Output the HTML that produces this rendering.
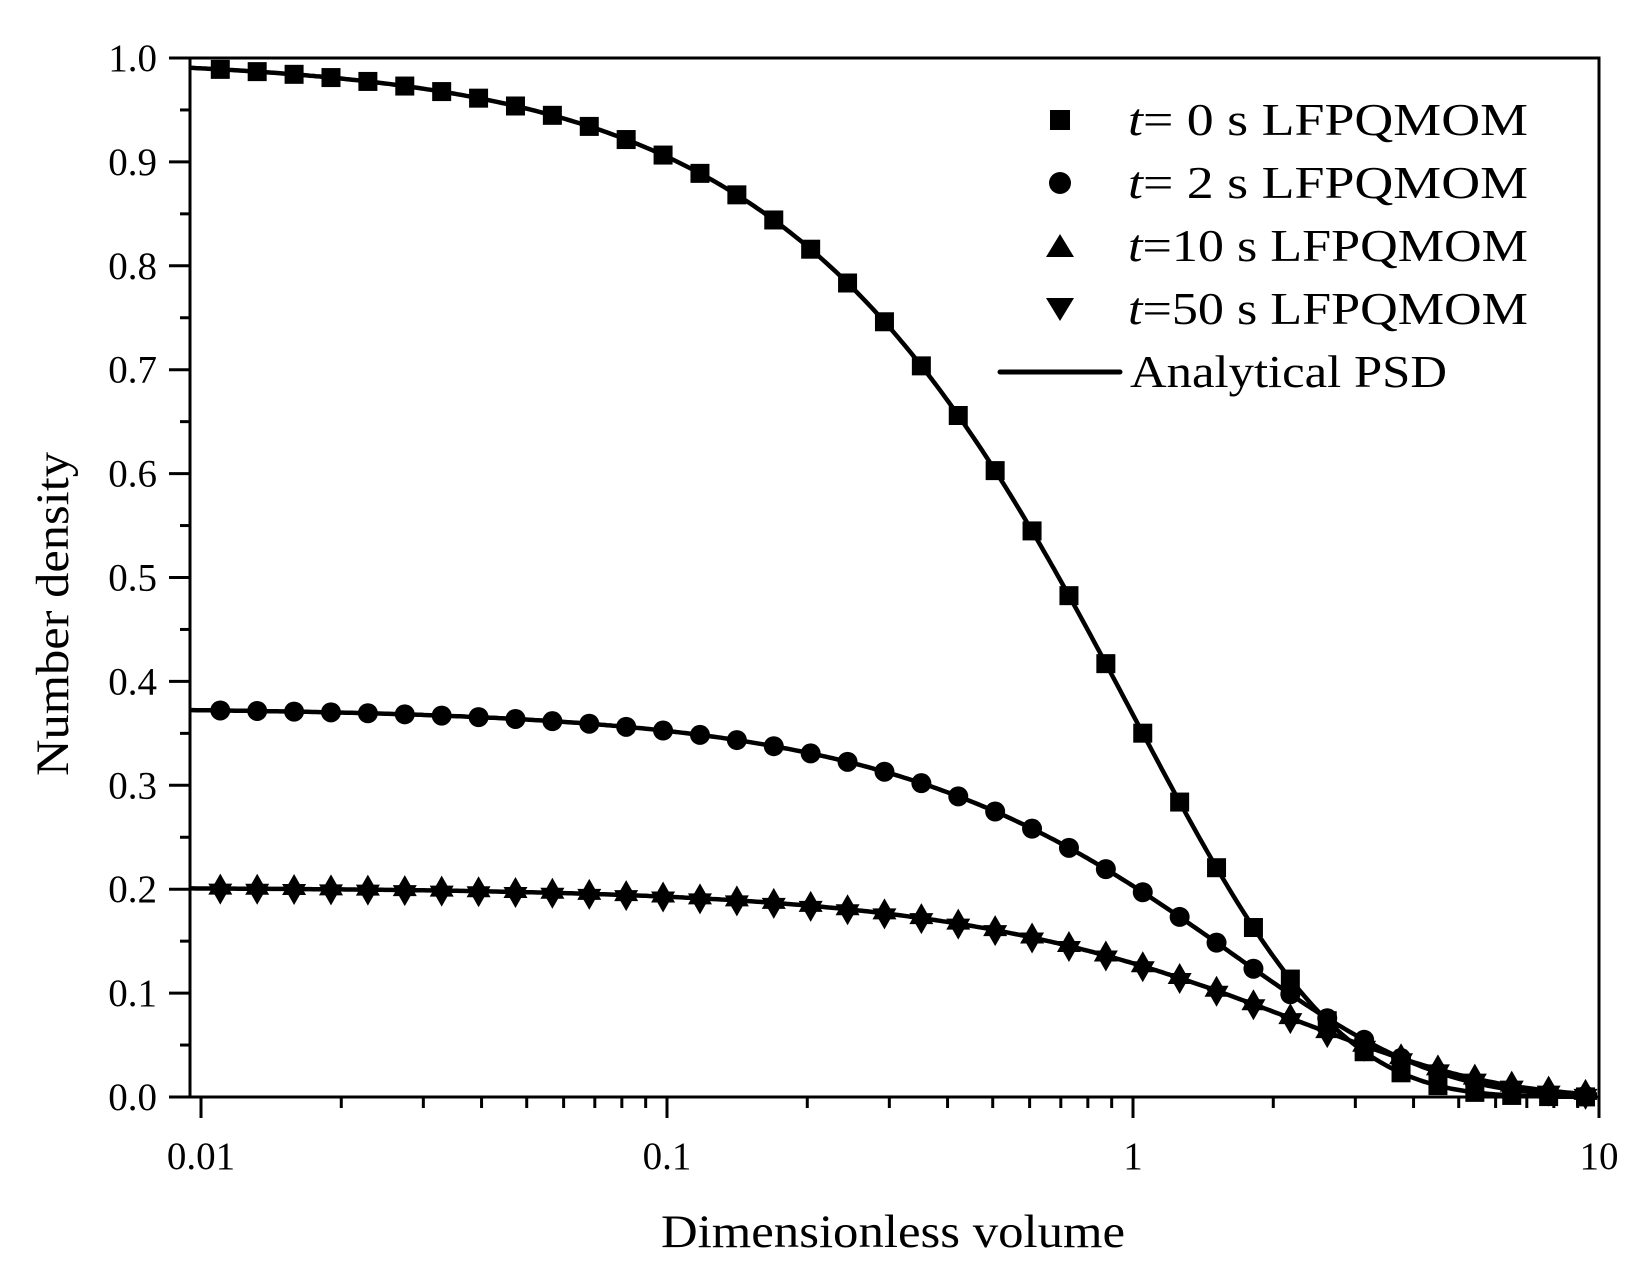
<!DOCTYPE html>
<html><head><meta charset="utf-8"><style>
html,body{margin:0;padding:0;background:#fff;}
svg{display:block;font-family:"Liberation Serif","Times New Roman",serif;}
</style></head><body>
<svg id="s" width="1640" height="1266" viewBox="0 0 1640 1266" xmlns="http://www.w3.org/2000/svg">
<rect width="1640" height="1266" fill="#fff"/>
<g id="g"></g>
<rect x="190" y="58" width="1409" height="1039" fill="none" stroke="#000" stroke-width="3"/>
<g font-size="39" fill="#000">
<text x="201" y="1169" text-anchor="middle">0.01</text>
<text x="667" y="1169" text-anchor="middle">0.1</text>
<text x="1133" y="1169" text-anchor="middle">1</text>
<text x="1599" y="1169" text-anchor="middle">10</text>
</g>
<text x="893" y="1247" font-size="47" text-anchor="middle" textLength="464" lengthAdjust="spacingAndGlyphs">Dimensionless volume</text>
<text transform="translate(68,614) rotate(-90)" font-size="47" text-anchor="middle" textLength="324" lengthAdjust="spacingAndGlyphs">Number density</text>
<g font-size="46">
<text x="1128" y="135" textLength="400" lengthAdjust="spacingAndGlyphs"><tspan font-style="italic">t</tspan>= 0  s  LFPQMOM</text>
<text x="1128" y="198" textLength="400" lengthAdjust="spacingAndGlyphs"><tspan font-style="italic">t</tspan>= 2  s  LFPQMOM</text>
<text x="1128" y="261" textLength="400" lengthAdjust="spacingAndGlyphs"><tspan font-style="italic">t</tspan>=10 s  LFPQMOM</text>
<text x="1128" y="324" textLength="400" lengthAdjust="spacingAndGlyphs"><tspan font-style="italic">t</tspan>=50 s  LFPQMOM</text>
<text x="1130" y="387" textLength="317" lengthAdjust="spacingAndGlyphs">Analytical PSD</text>
</g>
<rect x="1050" y="110" width="20" height="20"/>
<circle cx="1060" cy="183" r="11"/>
<polygon points="1060,234 1074,257 1046,257"/>
<polygon points="1046,298 1074,298 1060,321"/>
<line x1="1000" y1="372" x2="1120" y2="372" stroke="#000" stroke-width="5" stroke-linecap="round"/>
</svg>
<script>
(function(){
var g=document.getElementById('g'),h='';
var X=function(v){return 201+466*Math.log10(v/0.01);};
var Y=function(n){return 1097-1039*n;};
for(var i=0;i<=20;i++){var y=1097-i*51.95;var L=(i%2==0)?21:10;h+='<line x1="'+(190-L)+'" y1="'+y+'" x2="190" y2="'+y+'" stroke="#000" stroke-width="3"/>';}
for(var d=0.01;d<10;d*=10){for(var k=1;k<10;k++){var x=X(d*k);var L=(k==1)?21:11;h+='<line x1="'+x+'" y1="1097" x2="'+x+'" y2="'+(1097+L)+'" stroke="#000" stroke-width="3"/>';}}
h+='<line x1="1599" y1="1097" x2="1599" y2="1118" stroke="#000" stroke-width="3"/>';
var lab=['0.0','0.1','0.2','0.3','0.4','0.5','0.6','0.7','0.8','0.9','1.0'];
for(var i=0;i<=10;i++){h+='<text x="157" y="'+(Y(i/10)+13)+'" font-size="39" text-anchor="end">'+lab[i]+'</text>';}
var f0=function(v){return Math.exp(-v);};
var f2=function(v){var N=0.612;return N*N*Math.exp(-v*N);};
var f10=function(v){var N=0.449;return N*N*Math.exp(-v*N);};
[f0,f2,f10].forEach(function(f){var p=[];for(var x=190;x<=1599;x+=3){var v=0.01*Math.pow(10,(x-201)/466);p.push(x+','+Y(f(v)).toFixed(1));}
h+='<polyline points="'+p.join(' ')+'" fill="none" stroke="#000" stroke-width="4.5"/>';});
for(var k=0;k<=37;k++){var v=0.011*Math.pow(1.2,k);var x=X(v);
var y=Y(f0(v));h+='<rect x="'+(x-9.5)+'" y="'+(y-9.5)+'" width="19" height="19"/>';
y=Y(f2(v));h+='<circle cx="'+x+'" cy="'+y+'" r="10"/>';
y=Y(f10(v));h+='<polygon points="'+x+','+(y-15)+' '+(x+12)+','+(y+6)+' '+(x-12)+','+(y+6)+'"/>';
h+='<polygon points="'+(x-12)+','+(y-5)+' '+(x+12)+','+(y-5)+' '+x+','+(y+16)+'"/>';}
g.innerHTML=h;
})();
</script>
</body></html>
